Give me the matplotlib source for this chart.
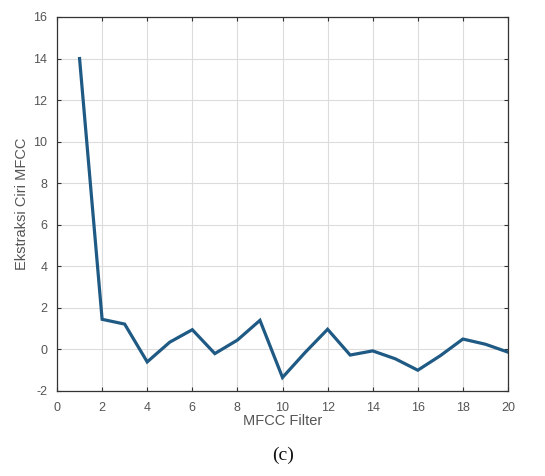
import matplotlib.pyplot as plt

# MFCC coefficients
filters = list(range(1, 21))
mfcc = [14.0, 1.45, 1.22, -0.6, 0.35, 0.95, -0.2, 0.45, 1.4, -1.35,
        -0.15, 0.97, -0.27, -0.07, -0.45, -1.0, -0.3, 0.5, 0.25, -0.13]

x_ticks = list(range(0, 21, 2))
y_ticks = list(range(-2, 17, 2))

plt.rcParams['font.family'] = ['Liberation Sans', 'DejaVu Sans']
plt.rcParams['axes.unicode_minus'] = False

fig = plt.figure(figsize=(5.45, 4.76), dpi=100)
ax = fig.add_axes([0.1046, 0.1786, 0.8275, 0.7857])

ax.plot(filters, mfcc, color='#1f5a84', linewidth=2.3, solid_joinstyle='miter')

ax.set_xlim(0, 20)
ax.set_ylim(-2, 16)
ax.set_xticks(x_ticks)
ax.set_yticks(y_ticks)
ax.grid(True, color='#dcdcdc', linewidth=0.8)
ax.tick_params(direction='in', top=True, right=True, length=3,
               colors='#333333', labelcolor='#555555', labelsize=9)
ax.tick_params(axis='x', pad=8)
ax.tick_params(axis='y', pad=7)
for s in ax.spines.values():
    s.set_color('#333333')
    s.set_linewidth(0.9)

ax.set_xlabel('MFCC Filter', fontsize=10.5, color='#555555', labelpad=0)
ax.set_ylabel('Ekstraksi Ciri MFCC', fontsize=10.5, color='#555555', labelpad=3)

fig.text(0.52, 0.044, '(c)', family='Liberation Serif', fontsize=14,
         ha='center', va='center', color='#111111')

fig.savefig('out.png', dpi=100)
